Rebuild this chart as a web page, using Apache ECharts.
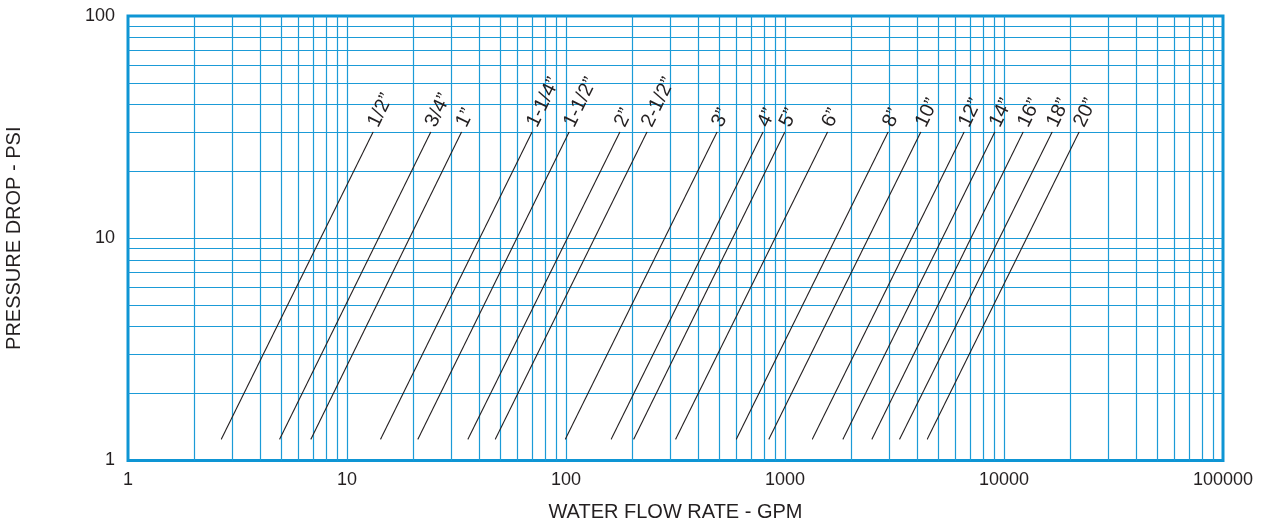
<!DOCTYPE html>
<html>
<head>
<meta charset="utf-8">
<script src="https://cdn.jsdelivr.net/npm/echarts@6/dist/echarts.min.js"></script>
<style>
html,body{margin:0;padding:0;background:#fff;}
#chart{width:1262px;height:529px;}
</style>
</head>
<body>
<div id="chart"></div>
<script>
// Pipe sizes (series names / labels)
const pipeSizes = ['1/2\u201D','3/4\u201D','1\u201D','1-1/4\u201D','1-1/2\u201D','2\u201D','2-1/2\u201D','3\u201D','4\u201D','5\u201D','6\u201D','8\u201D','10\u201D','12\u201D','14\u201D','16\u201D','18\u201D','20\u201D'];
// Flow (GPM) at the lower end of each line (pressure drop = lowPsi)
const lowFlow  = [2.67, 4.93, 6.85, 14.25, 21.1, 35.7, 47.6, 99.4, 161, 204, 317, 600, 845, 1334, 1841, 2497, 3340, 4467];
// Flow (GPM) at the upper end of each line (pressure drop = highPsi)
const highFlow = [13.14, 24.1, 33.3, 69.9, 103.2, 176, 234, 489, 793, 997, 1562, 2954, 4165, 6568, 9068, 12215, 16567, 22000];
const lowPsi = 1.25;
const highPsi = 30;
// Grid lines
const xGridValues = [2,3,4,5,6,7,8,9,10,20,30,40,50,60,70,80,90,100,200,300,400,500,600,700,800,900,1000,2000,3000,4000,5000,6000,7000,8000,9000,10000,20000,30000,40000,50000,60000,70000,80000,90000];
const yGridValues = [2,3,4,5,6,7,8,9,10,20,30,40,50,60,70,80,90];

const gridBlue = '#1b9bd7';
const textColor = '#231f20';
const fontFamily = 'Liberation Sans, Arial, sans-serif';

const chart = echarts.init(document.getElementById('chart'), null, {renderer:'canvas'});

const series = [];
series.push({
  type:'line', data:[], silent:true, z:1,
  markLine:{
    silent:true, symbol:'none', animation:false,
    label:{show:false},
    lineStyle:{color:gridBlue, width:1.2, type:'solid', opacity:1},
    emphasis:{disabled:true},
    data: xGridValues.map(v=>({xAxis:v})).concat(yGridValues.map(v=>({yAxis:v})))
  }
});
pipeSizes.forEach((name,i)=>{
  series.push({
    name:name, type:'line', z:5,
    symbol:'circle', symbolSize:1, showSymbol:true, silent:true, animation:false,
    itemStyle:{color:textColor},
    lineStyle:{color:textColor, width:1.1},
    label:{show:false},
    data:[
      {value:[lowFlow[i], lowPsi], label:{show:false}},
      {value:[highFlow[i], highPsi],
       label:{show:true, formatter:name, position:'top', distance:6,
              rotate:64, align:'left', verticalAlign:'middle',
              color:textColor, fontSize:20, fontFamily:fontFamily}}
    ]
  });
});

chart.setOption({
  animation:false,
  backgroundColor:'#fff',
  grid:{left:128, right:39, top:16, bottom:68.5, show:true, borderColor:'#0e95d4', borderWidth:3, backgroundColor:'transparent', outerBoundsMode:'none', containLabel:false},
  xAxis:{
    type:'log', logBase:10, min:1, max:100000,
    name:'WATER FLOW RATE - GPM', nameLocation:'middle', nameGap:42,
    nameTextStyle:{color:textColor, fontSize:20, fontFamily:fontFamily},
    axisLine:{show:false}, axisTick:{show:false},
    splitLine:{show:false}, minorSplitLine:{show:false},
    axisLabel:{color:textColor, fontSize:18, fontFamily:fontFamily, margin:11,
      formatter:v=>String(Math.round(v))}
  },
  yAxis:{
    type:'log', logBase:10, min:1, max:100,
    name:'PRESSURE DROP - PSI', nameLocation:'middle', nameGap:104,
    nameTextStyle:{color:textColor, fontSize:20, fontFamily:fontFamily},
    axisLine:{show:false}, axisTick:{show:false},
    splitLine:{show:false}, minorSplitLine:{show:false},
    axisLabel:{color:textColor, fontSize:18, fontFamily:fontFamily, margin:13,
      formatter:v=>String(Math.round(v))}
  },
  series:series
});
</script>
</body>
</html>
